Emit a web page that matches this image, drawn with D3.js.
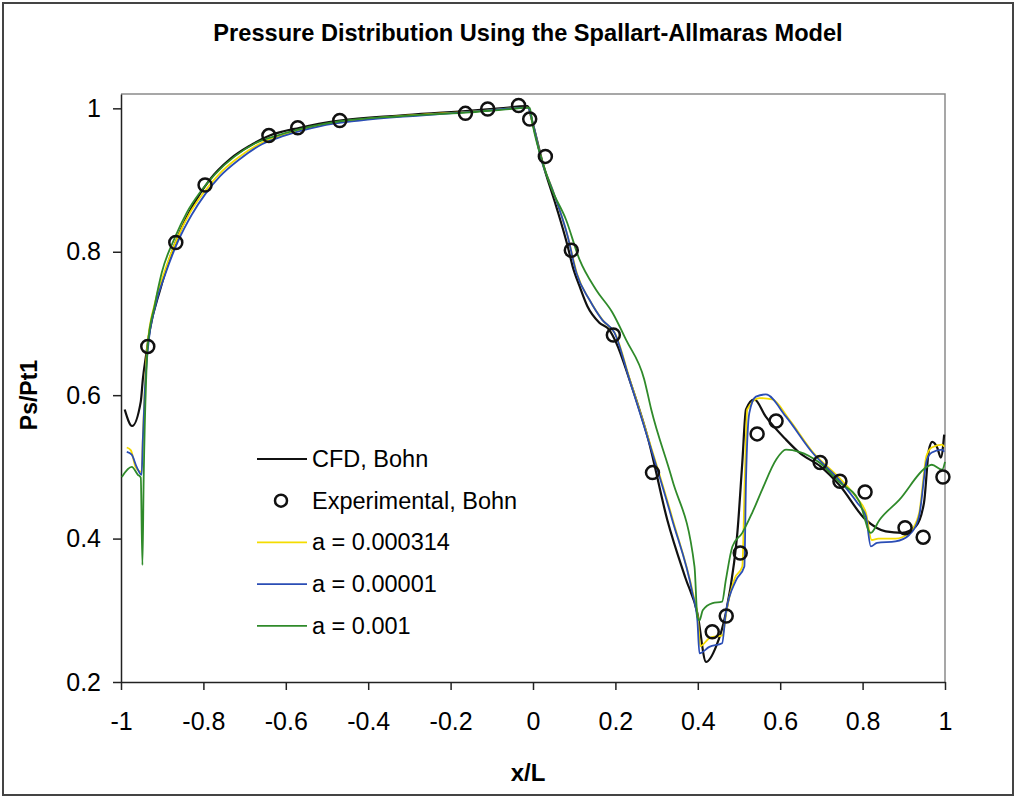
<!DOCTYPE html>
<html>
<head>
<meta charset="utf-8">
<script src="https://cdn.jsdelivr.net/npm/d3@7"></script>
<style>
  body { margin: 0; background: #fff; }
  svg { display: block; font-family: "Liberation Sans", Arial, sans-serif; }
  .axis path, .axis line { stroke: #222; stroke-width: 1.5; }
  .axis text { fill: #000; }
  .line { fill: none; }
</style>
</head>
<body>
<div id="graph"></div>
<script>
// experimental points (Bohn)
var expX = [-0.935, -0.867, -0.796, -0.641, -0.571, -0.469, -0.164, -0.110, -0.035, -0.008, 0.030, 0.093, 0.195,
  0.290, 0.435, 0.469, 0.503, 0.544, 0.590, 0.697, 0.745, 0.806, 0.903, 0.947, 0.995];
var expY = [0.668, 0.813, 0.893, 0.962, 0.973, 0.983, 0.993, 0.999, 1.004, 0.985, 0.933, 0.802, 0.684,
  0.492, 0.270, 0.292, 0.380, 0.546, 0.564, 0.506, 0.480, 0.465, 0.415, 0.402, 0.486];

// CFD, Bohn  [x/L, Ps/Pt1]
var cfd = [[-0.991,0.580],[-0.973,0.557],[-0.952,0.591],[-0.947,0.622],[-0.939,0.656],[-0.930,0.691],[-0.905,0.747],
  [-0.881,0.792],[-0.857,0.828],[-0.821,0.869],[-0.784,0.901],[-0.736,0.929],[-0.687,0.948],[-0.639,0.962],
  [-0.566,0.973],[-0.469,0.983],[-0.324,0.990],[-0.164,0.996],[-0.081,1.000],[-0.013,1.003],[-0.001,0.980],
  [0.023,0.925],[0.056,0.864],[0.084,0.808],[0.096,0.780],[0.113,0.752],[0.132,0.724],[0.161,0.701],[0.185,0.691],
  [0.202,0.673],[0.234,0.622],[0.280,0.538],[0.326,0.426],[0.370,0.345],[0.399,0.296],[0.420,0.228],
  [0.444,0.249],[0.468,0.296],[0.488,0.366],[0.496,0.408],[0.508,0.506],[0.517,0.580],[0.537,0.594],[0.565,0.570],
  [0.614,0.538],[0.646,0.520],[0.699,0.500],[0.743,0.475],[0.808,0.426],[0.856,0.410],[0.896,0.408],[0.929,0.417],
  [0.949,0.450],[0.961,0.524],[0.969,0.535],[0.981,0.527],[0.990,0.513],[0.998,0.545]];

// a = 0.000314
var aYellow = [[-0.986,0.527],[-0.976,0.523],[-0.964,0.499],[-0.950,0.493],[-0.947,0.540],[-0.942,0.612],[-0.936,0.668],
  [-0.918,0.728],[-0.895,0.771],[-0.865,0.817],[-0.832,0.855],[-0.800,0.882],[-0.764,0.907],[-0.716,0.931],
  [-0.662,0.951],[-0.606,0.963],[-0.520,0.976],[-0.421,0.984],[-0.275,0.991],[-0.130,0.996],[-0.013,1.001],
  [-0.001,0.979],[0.021,0.928],[0.049,0.884],[0.085,0.820],[0.107,0.769],[0.139,0.731],[0.170,0.704],[0.200,0.685],
  [0.236,0.620],[0.340,0.425],[0.389,0.322],[0.400,0.290],[0.406,0.250],[0.430,0.262],[0.460,0.265],[0.470,0.300],
  [0.490,0.345],[0.508,0.361],[0.514,0.482],[0.520,0.580],[0.549,0.596],[0.581,0.594],[0.622,0.566],[0.680,0.520],
  [0.743,0.485],[0.788,0.455],[0.808,0.436],[0.822,0.398],[0.838,0.400],[0.880,0.400],[0.913,0.408],[0.937,0.435],
  [0.955,0.515],[0.968,0.527],[0.993,0.531],[0.998,0.528]];

// a = 0.00001
var aBlue = [[-0.986,0.521],[-0.974,0.517],[-0.962,0.500],[-0.950,0.489],[-0.947,0.538],[-0.942,0.608],[-0.935,0.663],
  [-0.916,0.726],[-0.893,0.768],[-0.862,0.814],[-0.828,0.852],[-0.796,0.880],[-0.760,0.905],[-0.712,0.929],
  [-0.658,0.950],[-0.603,0.962],[-0.518,0.975],[-0.421,0.983],[-0.275,0.990],[-0.130,0.996],[-0.013,1.001],
  [-0.001,0.980],[0.020,0.929],[0.047,0.887],[0.084,0.822],[0.105,0.771],[0.137,0.733],[0.168,0.705],[0.198,0.687],
  [0.234,0.622],[0.338,0.426],[0.387,0.324],[0.399,0.286],[0.404,0.240],[0.428,0.249],[0.459,0.254],[0.468,0.296],
  [0.493,0.342],[0.513,0.361],[0.517,0.482],[0.525,0.575],[0.541,0.598],[0.565,0.601],[0.614,0.570],[0.678,0.520],
  [0.743,0.482],[0.787,0.450],[0.808,0.431],[0.820,0.389],[0.835,0.394],[0.880,0.396],[0.913,0.405],[0.937,0.431],
  [0.956,0.510],[0.968,0.520],[0.993,0.524],[0.998,0.521]];

// a = 0.001
var aGreen = [[-0.998,0.486],[-0.974,0.500],[-0.959,0.489],[-0.952,0.485],[-0.948,0.363],[-0.945,0.482],[-0.939,0.622],
  [-0.935,0.670],[-0.918,0.726],[-0.901,0.771],[-0.869,0.820],[-0.840,0.855],[-0.808,0.883],[-0.772,0.908],
  [-0.724,0.933],[-0.675,0.951],[-0.627,0.961],[-0.566,0.971],[-0.469,0.982],[-0.324,0.989],[-0.164,0.994],
  [-0.057,0.999],[-0.008,1.001],[-0.001,0.978],[0.023,0.925],[0.045,0.888],[0.080,0.845],[0.113,0.789],
  [0.153,0.747],[0.193,0.715],[0.226,0.677],[0.270,0.622],[0.287,0.580],[0.338,0.482],[0.392,0.361],[0.399,0.291],
  [0.404,0.286],[0.412,0.300],[0.436,0.310],[0.459,0.312],[0.468,0.342],[0.484,0.389],[0.508,0.408],[0.532,0.436],
  [0.556,0.468],[0.590,0.510],[0.614,0.524],[0.646,0.521],[0.695,0.506],[0.743,0.479],[0.792,0.452],[0.820,0.408],
  [0.841,0.426],[0.889,0.454],[0.956,0.500],[0.968,0.503],[0.993,0.496],[1.000,0.507]];

var xTicks = [-1, -0.8, -0.6, -0.4, -0.2, 0, 0.2, 0.4, 0.6, 0.8, 1];
var yTicks = [0.2, 0.4, 0.6, 0.8, 1];
var legendLabels = ["CFD,  Bohn", "Experimental, Bohn", "a = 0.000314", "a = 0.00001", "a = 0.001"];

var W = 1017, H = 798;
var margin = {top: 94, right: 72, bottom: 116, left: 121};
var width = W - margin.left - margin.right;
var height = H - margin.top - margin.bottom;

var svg = d3.select("#graph").append("svg")
  .attr("width", W)
  .attr("height", H);

//outer frame
svg.append("rect")
  .attr("x", 3).attr("y", 3)
  .attr("width", W - 7).attr("height", H - 6)
  .attr("fill", "white")
  .attr("stroke", "#444")
  .attr("stroke-width", 2);

svg.append("text")
  .attr("x", 528).attr("y", 41)
  .attr("text-anchor", "middle")
  .style("font-size", "23.6px")
  .style("font-weight", "bold")
  .text("Pressure Distribution Using the Spallart-Allmaras Model");

var g = svg.append("g").attr("transform", "translate(" + margin.left + "," + margin.top + ")");

var x = d3.scaleLinear().domain([-1, 1]).range([0, width]);
var y = d3.scaleLinear().domain([0.2, 1.02]).range([height, 0]);

//plot area border (top and right)
g.append("path")
  .attr("d", "M0,0H" + width + "V" + height)
  .attr("fill", "none")
  .attr("stroke", "#8a8a8a")
  .attr("stroke-width", 1.5);

// plain hyphen for negatives, like the original
var fmt = function(d) { return String(+d.toFixed(1)); };

g.append("g")
  .attr("class", "axis axis--x")
  .attr("transform", "translate(0," + height + ")")
  .call(d3.axisBottom(x).tickValues(xTicks).tickSize(8).tickSizeOuter(0).tickPadding(22).tickFormat(fmt))
  .selectAll("text").style("font-size", "25px");

g.append("g")
  .attr("class", "axis axis--y")
  .call(d3.axisLeft(y).tickValues(yTicks).tickSize(8).tickSizeOuter(0).tickPadding(12).tickFormat(fmt))
  .selectAll("text").style("font-size", "25px");

svg.append("text")
  .attr("x", 528).attr("y", 781)
  .attr("text-anchor", "middle")
  .style("font-size", "24px").style("font-weight", "bold")
  .text("x/L");

svg.append("text")
  .attr("transform", "translate(37,395) rotate(-90)")
  .attr("text-anchor", "middle")
  .style("font-size", "23px").style("font-weight", "bold")
  .text("Ps/Pt1");

var line = d3.line()
  .x(function(d) { return x(d[0]); })
  .y(function(d) { return y(d[1]); })
  .curve(d3.curveMonotoneX);

var series = [
  {data: cfd, color: "#111", w: 2.2},
  {data: aYellow, color: "#f4dc00", w: 1.8},
  {data: aBlue, color: "#2a4db5", w: 1.8},
  {data: aGreen, color: "#2f8a2a", w: 1.8}
];

series.forEach(function(s) {
  g.append("path")
    .datum(s.data)
    .attr("class", "line")
    .attr("stroke", s.color)
    .attr("stroke-width", s.w)
    .attr("d", line);
});

g.selectAll(".exp")
  .data(expX)
  .enter().append("circle")
  .attr("class", "exp")
  .attr("cx", function(d) { return x(d); })
  .attr("cy", function(d, i) { return y(expY[i]); })
  .attr("r", 6.5)
  .attr("fill", "none")
  .attr("stroke", "#111")
  .attr("stroke-width", 2.5);

//legend
var legendColors = ["#111", null, "#f4dc00", "#2a4db5", "#2f8a2a"];
var lg = svg.append("g").attr("transform", "translate(257,459)");
legendLabels.forEach(function(label, i) {
  var row = lg.append("g").attr("transform", "translate(0," + (i * 41.7) + ")");
  if (legendColors[i]) {
    row.append("line")
      .attr("x1", 0).attr("x2", 50)
      .attr("stroke", legendColors[i])
      .attr("stroke-width", i === 0 ? 2.2 : 1.8);
  } else {
    row.append("circle")
      .attr("cx", 24).attr("r", 6)
      .attr("fill", "none")
      .attr("stroke", "#111")
      .attr("stroke-width", 2.5);
  }
  row.append("text")
    .attr("x", 55).attr("y", 8)
    .style("font-size", "23.5px")
    .text(label);
});
</script>
</body>
</html>
